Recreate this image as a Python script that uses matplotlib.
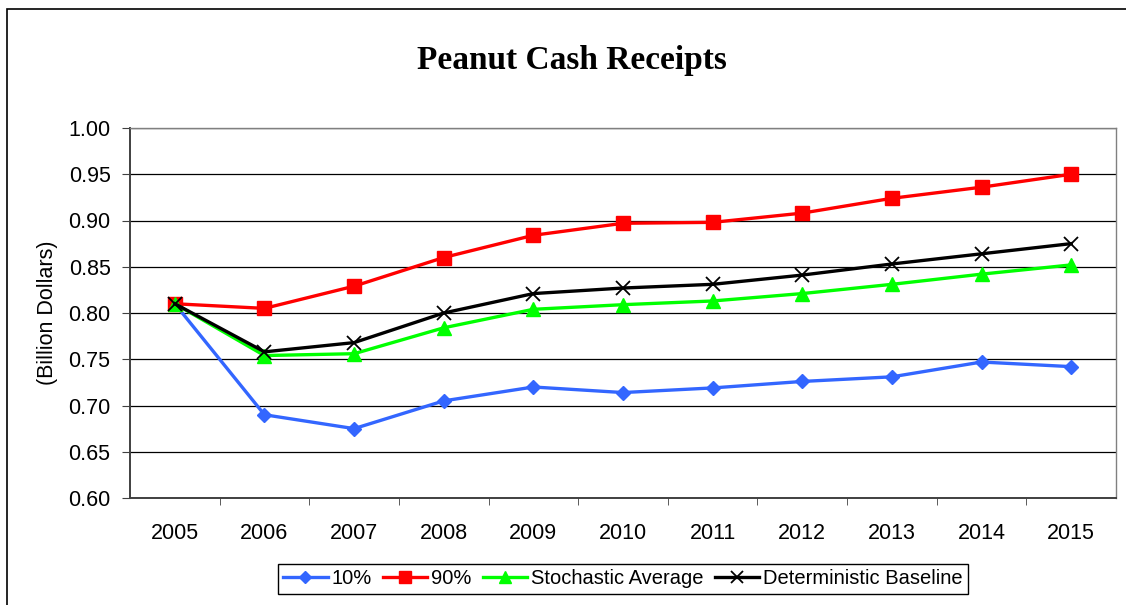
import matplotlib
matplotlib.use("Agg")
import matplotlib.pyplot as plt
from matplotlib.patches import Rectangle
from matplotlib.ticker import FixedLocator, FormatStrFormatter

# Peanut cash receipts, billion dollars
years = ["2005", "2006", "2007", "2008", "2009", "2010",
         "2011", "2012", "2013", "2014", "2015"]
p10 = [0.810, 0.690, 0.675, 0.705, 0.720, 0.714, 0.719, 0.726, 0.731, 0.747, 0.742]
p90 = [0.810, 0.805, 0.829, 0.860, 0.884, 0.897, 0.898, 0.908, 0.924, 0.936, 0.950]
stoch_avg = [0.810, 0.754, 0.756, 0.784, 0.804, 0.809, 0.813, 0.821, 0.831, 0.842, 0.852]
det_base = [0.810, 0.758, 0.768, 0.800, 0.821, 0.827, 0.831, 0.841, 0.853, 0.864, 0.875]
y_ticks = [0.60, 0.65, 0.70, 0.75, 0.80, 0.85, 0.90, 0.95, 1.00]

W, H = 1126, 605
fig = plt.figure(figsize=(W / 100, H / 100), dpi=100)
plt.rcParams['font.family'] = ['Liberation Sans', 'DejaVu Sans']

# outer chart border (right/bottom run off the image)
fig.add_artist(Rectangle((7 / W, -0.05), 1.1, 1 - 9 / H + 0.05,
                         transform=fig.transFigure, fill=False,
                         edgecolor='black', linewidth=1.2, clip_on=False))

ax = fig.add_axes([130 / W, 1 - 498 / H, (1116 - 130) / W, (498 - 128) / H])

x = list(range(len(years)))
ax.plot(x, p10, color='#3366ff', lw=2.4, marker='D', ms=7, label='10%', zorder=3)
ax.plot(x, p90, color='#ff0000', lw=2.4, marker='s', ms=10, label='90%', zorder=3)
ax.plot(x, stoch_avg, color='#00ff00', lw=2.4, marker='^', ms=10,
        label='Stochastic Average', zorder=4)
ax.plot(x, det_base, color='black', lw=2.4, marker='x', ms=10, mew=1.3,
        label='Deterministic Baseline', zorder=5)

ax.set_xlim(-0.5, len(years) - 0.5)
ax.set_ylim(0.60, 1.00)
ax.yaxis.set_major_locator(FixedLocator(y_ticks))
ax.yaxis.set_major_formatter(FormatStrFormatter('%.2f'))
ax.set_xticks(x)
ax.set_xticklabels(years)
ax.xaxis.set_minor_locator(FixedLocator([i + 0.5 for i in x[:-1]]))
ax.tick_params(axis='x', which='major', length=0, pad=18, labelsize=15.5)
ax.tick_params(axis='x', which='minor', length=5, color='#404040', direction='out')
ax.tick_params(axis='y', length=6, color='#404040', pad=8, labelsize=15.5)

ax.grid(axis='y', color='black', lw=0.9)
ax.set_axisbelow(True)
for side in ['top', 'right']:
    ax.spines[side].set_color('#808080')
    ax.spines[side].set_linewidth(1.0)
for side in ['left', 'bottom']:
    ax.spines[side].set_color('#404040')
    ax.spines[side].set_linewidth(1.4)

fig.text(572 / W, 1 - 69 / H, 'Peanut Cash Receipts', ha='center', va='baseline',
         fontsize=24, fontweight='bold', family='Liberation Serif')
fig.text(48 / W, 1 - 313 / H, '(Billion Dollars)', rotation=90,
         ha='center', va='center', fontsize=15.5)

leg = fig.legend(loc='center', bbox_to_anchor=(623 / W, 1 - 579 / H), ncol=4,
                 fontsize=14.5, frameon=True, fancybox=False, framealpha=1,
                 edgecolor='black', handlelength=2.2, handletextpad=0.2,
                 columnspacing=0.55, borderpad=0.25, borderaxespad=0)
leg.get_frame().set_linewidth(1.0)
for h in leg.legend_handles:
    h.set_markersize(h.get_markersize() * 0.9)

fig.savefig('out.png', dpi=100)
